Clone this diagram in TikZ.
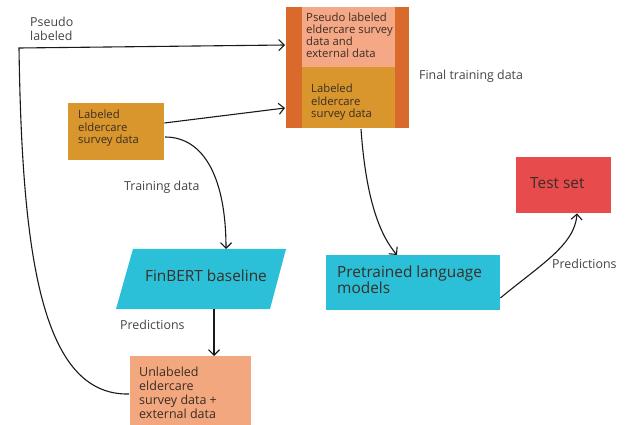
\documentclass[tikz,border=0pt]{standalone}
\usepackage{fontspec}
\setmainfont{Open Sans}
\usetikzlibrary{arrows.meta}
\definecolor{strip}{HTML}{D96A2B}
\definecolor{lightsalmon}{HTML}{F4A886}
\definecolor{gold}{HTML}{D8962C}
\definecolor{cyanbox}{HTML}{2BBFD8}
\definecolor{redbox}{HTML}{E84B4B}
\definecolor{salmon}{HTML}{F3A77E}
\definecolor{boxtext}{HTML}{3A2E26}
\definecolor{labeltext}{HTML}{444444}
\tikzset{
  boxlabel/.style={font=\fontsize{11.3}{12.3}\selectfont, text=boxtext, align=left, anchor=base west, inner sep=0pt},
  unllabel/.style={font=\fontsize{12.5}{14}\selectfont, text=boxtext, align=left, anchor=base west, inner sep=0pt},
  biglabel/.style={font=\fontsize{15.4}{17}\selectfont, text=boxtext, align=left, inner sep=0pt},
  edgelabel/.style={font=\fontsize{12.4}{14}\selectfont, text=labeltext, align=left, anchor=base west, inner sep=0pt},
  conn/.style={draw=black!90, line width=1.1pt, -{Straight Barb[length=5.5pt,width=11pt]}},
}
\begin{document}
\begin{tikzpicture}[x=1pt,y=-1pt]
\useasboundingbox (0,0) rectangle (630,425);
% Final training data box
\fill[strip] (286,7) rectangle (409,128);
\fill[lightsalmon] (302,7) rectangle (395,67);
\fill[gold] (302,67) rectangle (395,128);
\node[boxlabel] (pseudotxt) at (306,58) {Pseudo labeled\\eldercare survey\\data and\\external data};
\node[boxlabel] (labtxt) at (311,117.6) {Labeled\\eldercare\\survey data};
\coordinate (finalL1) at (285,45);
\coordinate (finalL2) at (285,108);
\coordinate (finalB) at (361,129);
\node[edgelabel] (ftd) at (419,80) {Final training data};
% Labeled eldercare box
\node[fill=gold, minimum width=96pt, minimum height=57pt, inner sep=0pt, anchor=north west] (lab) at (68,103) {};
\node[boxlabel] (labt) at (78,143.6) {Labeled\\eldercare\\survey data};
% FinBERT parallelogram
\fill[cyanbox] (133,249) -- (286,249) -- (270,309) -- (116,309) -- cycle;
\node[biglabel] (fin) at (206,276) {FinBERT baseline};
\coordinate (finT) at (226,249);
\coordinate (finB) at (214,309);
% Unlabeled box
\node[fill=salmon, minimum width=121pt, minimum height=69pt, inner sep=0pt, anchor=north west] (unl) at (130,356) {};
\node[unllabel] (unlt) at (139,418) {Unlabeled\\eldercare\\survey data +\\external data};
% Pretrained box
\node[fill=cyanbox, minimum width=174pt, minimum height=55pt, inner sep=0pt, anchor=north west] (pre) at (326,255) {};
\node[biglabel, anchor=base west] (pret) at (337,294) {Pretrained language\\models};
% Test set
\node[fill=redbox, minimum width=95pt, minimum height=56pt, inner sep=0pt, anchor=north west] (test) at (516,157) {};
\node[biglabel, anchor=base west] (testt) at (530,189) {Test set};
% labels
\node[edgelabel] (pl) at (30,41) {Pseudo\\labeled};
\node[edgelabel] (td) at (124,191) {Training data};
\node[edgelabel] (pr1) at (120,330) {Predictions};
\node[edgelabel] (pr2) at (552,269) {Predictions};
% connectors
\coordinate (corner) at (19,48);
\coordinate (unlL) at (129,394);
\draw[conn] (unlL) .. controls (40,396) and (22,250) .. (corner) -- (finalL1);
\draw[conn] (lab.east |- 0,123) -- (finalL2);
\draw[conn] (165,137) .. controls (205,137) and (226,180) .. (finT);
\draw[conn] (finB) -- (unl.north -| 214,0);
\draw[conn] (finalB) .. controls (366,200) and (380,235) .. (pre.north -| 397,0);
\draw[conn] (pre.east |- 0,298) .. controls (540,265) and (575,245) .. (test.south -| 577,0);
\end{tikzpicture}
\end{document}
